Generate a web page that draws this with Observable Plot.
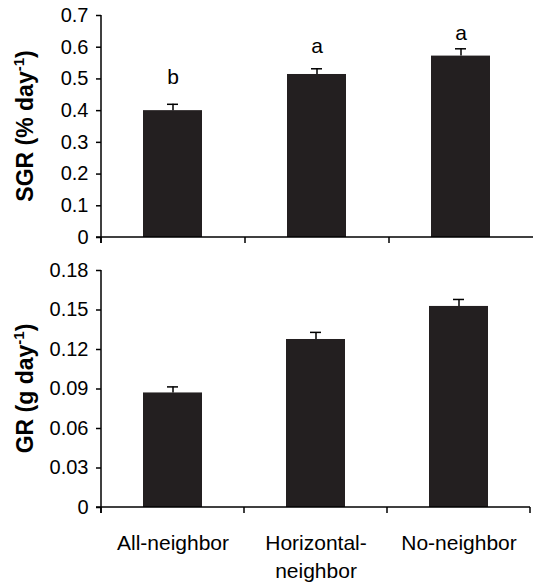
<!DOCTYPE html>
<html><head><meta charset="utf-8">
<script src="https://cdn.jsdelivr.net/npm/d3@7"></script>
<script src="https://cdn.jsdelivr.net/npm/@observablehq/plot@0.6"></script>
<style>
body{margin:0;background:#fff;font-family:"Liberation Sans",Arial,sans-serif}
#chart{width:533px}
#chart svg{display:block}
</style></head><body><div id="chart"></div>
<script>
const treatments = ["All-neighbor", "Horizontal-neighbor", "No-neighbor"];
const treatmentLabels = ["All-neighbor", "Horizontal-\nneighbor", "No-neighbor"];
const sgrMean = [0.40, 0.514, 0.572];
const sgrErr = [0.020, 0.018, 0.023];
const sgrLetters = ["b", "a", "a"];
const sgrLetterY = [0.483, 0.583, 0.624];
const grMean = [0.087, 0.1276, 0.1527];
const grErr = [0.0046, 0.0054, 0.0053];
const sgrTicks = [0, 0.1, 0.2, 0.3, 0.4, 0.5, 0.6, 0.7];
const grTicks = [0, 0.03, 0.06, 0.09, 0.12, 0.15, 0.18];

const barColor = "#231f20";

function frameAxes(lastTick, extendRight) {
  return (index, scales, values, dims) => {
    const {width, height, marginLeft: ml, marginRight: mr, marginTop: mt, marginBottom: mb} = dims;
    const y0 = height - mb;
    const g = d3.create("svg:g").attr("stroke", "#000").attr("stroke-width", 1.5).attr("fill", "none");
    g.append("line").attr("x1", ml).attr("x2", ml).attr("y1", mt).attr("y2", y0 + 6);
    g.append("line").attr("x1", ml - 5).attr("x2", extendRight ? width : width - mr).attr("y1", y0).attr("y2", y0);
    const n = treatments.length, step = (width - mr - ml) / n;
    const last = lastTick ? n : n - 1;
    for (let k = 0; k <= last; k++) {
      g.append("line").attr("x1", ml + k * step).attr("x2", ml + k * step).attr("y1", y0).attr("y2", y0 + 6);
    }
    return g.node();
  };
}

function yLabel(main, sup, rest) {
  return (index, scales, values, dims) => {
    const cy = (dims.marginTop + dims.height - dims.marginBottom) / 2;
    const t = d3.create("svg:text")
      .attr("transform", `translate(33,${cy}) rotate(-90)`)
      .attr("text-anchor", "middle")
      .attr("font-weight", "bold")
      .attr("font-size", 23)
      .attr("fill", "#000");
    t.append("tspan").text(main);
    t.append("tspan").attr("font-size", 15).attr("dy", -9).text(sup);
    t.append("tspan").attr("dy", 9).text(rest);
    return t.node();
  };
}

function panel(o) {
  const data = treatments.map((t, i) => ({
    t, mean: o.mean[i], err: o.err[i],
    letter: o.letters ? o.letters[i] : null,
    ly: o.letterY ? o.letterY[i] : null
  }));
  const marks = [
    Plot.barY(data, {x: "t", y: "mean", fill: barColor}),
    Plot.ruleX(data, {x: "t", y1: "mean", y2: d => d.mean + d.err, stroke: "#000", strokeWidth: 1.5}),
    Plot.tickY(data, {x: "t", y: d => d.mean + d.err, stroke: "#000", strokeWidth: 1.5, insetLeft: 24, insetRight: 24}),
    Plot.axisY({ticks: o.ticks, tickFormat: d => String(d), tickSize: 5, tickPadding: 8, fontSize: 20, label: null, strokeWidth: 1.5}),
    frameAxes(o.lastTick, o.extendRight),
    yLabel(o.label[0], o.label[1], o.label[2])
  ];
  if (o.letters) {
    marks.push(Plot.text(data, {x: "t", y: "ly", text: "letter", fontSize: 21, lineAnchor: "bottom", fill: "#000"}));
  }
  if (o.showX) {
    marks.push(Plot.axisX({tickSize: 0, tickPadding: 22, fontSize: 21, label: null,
      tickFormat: d => treatmentLabels[treatments.indexOf(d)], lineHeight: 1.35}));
  } else {
    marks.push(Plot.axisX({ticks: [], label: null}));
  }
  return Plot.plot({
    width: 533,
    height: o.height,
    marginLeft: 101,
    marginRight: o.marginRight,
    marginTop: o.marginTop,
    marginBottom: o.marginBottom,
    style: {fontFamily: "'Liberation Sans', Arial, sans-serif", color: "#000", background: "#fff", overflow: "visible"},
    x: {domain: treatments, paddingInner: 0.587, paddingOuter: 0.2935, align: 0.5},
    y: {domain: [o.ticks[0], o.ticks[o.ticks.length - 1]]},
    marks
  });
}

const topPanel = panel({
  mean: sgrMean, err: sgrErr, letters: sgrLetters, letterY: sgrLetterY,
  ticks: sgrTicks, label: ["SGR (% day", "-1", ")"],
  height: 260, marginTop: 15, marginBottom: 23, marginRight: 0,
  lastTick: false, extendRight: true, showX: false
});
const bottomPanel = panel({
  mean: grMean, err: grErr,
  ticks: grTicks, label: ["GR (g day", "-1", ")"],
  height: 325, marginTop: 10, marginBottom: 78, marginRight: 3,
  lastTick: true, extendRight: false, showX: true
});
document.getElementById("chart").append(topPanel, bottomPanel);
</script>
</body></html>
